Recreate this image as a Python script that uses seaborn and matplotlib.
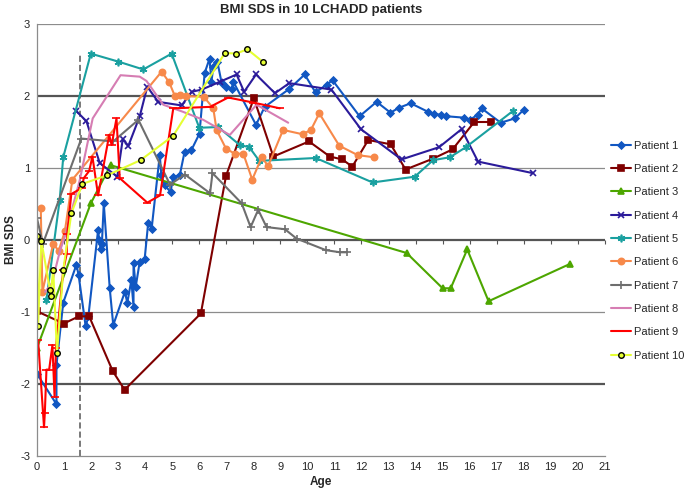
import numpy as np
import pandas as pd
import seaborn as sns
import matplotlib

matplotlib.use("Agg")
import matplotlib.pyplot as plt

# ages (years) and BMI SDS, one pair of lists per patient
p1_age = [0.0, 0.72, 0.72, 0.97, 1.46, 1.54, 1.8, 1.9, 2.26, 2.3, 2.35, 2.4, 2.47,
          2.69, 2.82, 3.25, 3.34, 3.49, 3.57, 3.57, 3.65, 3.8, 3.98, 4.11, 4.24,
          4.54, 4.6, 4.72, 4.94, 5.04, 5.28, 5.46, 5.71, 6.01, 6.2, 6.38, 6.45,
          6.52, 6.67, 6.83, 7.0, 7.2, 7.26, 8.1, 8.42, 9.33, 9.9, 10.3, 10.71,
          10.93, 11.93, 12.56, 13.07, 13.4, 13.82, 14.47, 14.68, 14.95, 15.14,
          15.8, 16.0, 16.3, 16.44, 17.15, 17.67, 18.0]
p1_sds = [-1.86, -2.28, -1.74, -0.87, -0.34, -0.49, -1.2, -1.06, 0.14, 0.0, -0.12,
          -0.05, 0.51, -0.67, -1.18, -0.72, -0.87, -0.56, -0.93, -0.32, -0.65,
          -0.3, -0.27, 0.23, 0.16, 1.18, 0.9, 0.76, 0.67, 0.88, 0.9, 1.23, 1.25,
          1.48, 2.32, 2.52, 2.2, 2.4, 2.48, 2.18, 2.13, 2.1, 2.2, 1.6, 1.85, 2.1,
          2.3, 2.05, 2.16, 2.22, 1.72, 1.92, 1.77, 1.84, 1.9, 1.78, 1.75, 1.74,
          1.72, 1.7, 1.67, 1.74, 1.83, 1.63, 1.69, 1.81]

p2_age = [0.0, 0.99, 1.55, 1.93, 2.8, 3.24, 6.06, 6.99, 8.02, 8.74, 10.06, 10.83,
          11.29, 11.66, 12.25, 13.08, 13.63, 14.64, 15.37, 16.17, 16.78]
p2_sds = [-0.99, -1.16, -1.06, -1.06, -1.82, -2.08, -1.02, 0.89, 1.97, 1.16, 1.37,
          1.16, 1.12, 1.02, 1.39, 1.33, 0.98, 1.13, 1.26, 1.64, 1.64]

p3_age = [0.0, 1.99, 2.72, 13.67, 15.0, 15.3, 15.91, 16.7, 19.72]
p3_sds = [-1.5, 0.51, 1.04, -0.18, -0.67, -0.67, -0.13, -0.85, -0.33]

p4_age = [1.46, 1.83, 2.32, 2.97, 3.17, 3.38, 3.8, 4.08, 4.48, 5.35, 5.72, 6.09,
          6.77, 7.38, 7.66, 8.1, 8.8, 9.33, 10.89, 11.98, 13.48, 14.87, 15.7,
          16.31, 18.33]
p4_sds = [1.79, 1.65, 1.07, 0.88, 1.4, 1.31, 1.72, 2.13, 1.92, 1.87, 2.06, 2.09,
          2.2, 2.3, 2.06, 2.3, 2.04, 2.18, 2.09, 1.54, 1.12, 1.29, 1.54, 1.09, 0.93]

p5_age = [0.35, 0.84, 0.97, 1.99, 3.0, 3.93, 4.98, 6.0, 6.7, 7.5, 7.85, 8.22,
          10.31, 12.41, 13.97, 14.65, 15.27, 15.86, 17.59]
p5_sds = [-0.83, 0.56, 1.15, 2.59, 2.48, 2.37, 2.59, 1.56, 1.57, 1.32, 1.29, 1.1,
          1.14, 0.8, 0.88, 1.11, 1.15, 1.29, 1.79]

p6_age = [0.14, 0.2, 0.6, 0.8, 1.03, 1.31, 4.61, 4.89, 5.1, 5.3, 5.5, 6.17, 6.52,
          6.64, 6.99, 7.31, 7.63, 7.96, 8.31, 8.55, 9.1, 9.82, 10.13, 10.44,
          11.18, 11.86, 12.46]
p6_sds = [0.44, -0.72, -0.05, -0.15, 0.12, 0.84, 2.34, 2.19, 2.0, 2.01, 2.0, 1.99,
          1.83, 1.53, 1.27, 1.2, 1.2, 0.84, 1.15, 1.03, 1.53, 1.47, 1.53, 1.76,
          1.31, 1.18, 1.15]

p7_age = [0.0, 0.22, 1.64, 2.82, 3.75, 4.92, 5.47, 6.4, 6.49, 7.57, 7.9, 8.18,
          8.49, 9.17, 9.6, 10.68, 11.2, 11.45]
p7_sds = [0.3, -0.05, 1.41, 1.37, 1.67, 0.77, 0.91, 0.65, 0.93, 0.51, 0.18, 0.42,
          0.18, 0.15, 0.02, -0.14, -0.17, -0.17]

p8_age = [0.3, 0.55, 0.85, 1.03, 1.58, 2.06, 3.09, 3.8, 4.05, 4.67, 5.41, 6.15,
          7.13, 8.12, 9.29]
p8_sds = [-0.72, -0.6, -0.15, 0.05, 0.83, 1.69, 2.29, 2.27, 2.21, 1.88, 1.78,
          1.67, 1.46, 1.88, 1.63]

p9_age = [0.04, 0.26, 0.29, 0.35, 0.45, 0.57, 0.65, 0.7, 0.97, 1.1, 1.12, 1.27,
          1.65, 1.73, 1.93, 2.05, 2.26, 2.67, 2.76, 2.94, 3.06, 4.08, 4.55,
          5.04, 6.4, 7.07, 8.0, 8.98]
p9_sds = [-1.39, -2.6, -2.4, -1.8, -1.8, -1.46, -2.18, -1.5, -0.42, -0.19, 0.09,
          0.64, 0.72, 0.86, 0.96, 1.16, 0.62, 1.46, 1.32, 1.69, 0.86, 0.52, 0.62,
          1.83, 1.85, 1.98, 1.91, 1.83]

p10_age = [0.0, 0.04, 0.16, 0.48, 0.5, 0.6, 0.74, 0.97, 1.27, 1.68, 2.6, 3.83,
           5.04, 6.95, 7.36, 7.78, 8.34]
p10_sds = [0.06, -1.2, -0.01, -0.69, -0.78, -0.41, -1.57, -0.42, 0.37, 0.78, 0.9,
           1.11, 1.45, 2.6, 2.59, 2.65, 2.48]

patients = [f"Patient {i}" for i in range(1, 11)]
ages = [p1_age, p2_age, p3_age, p4_age, p5_age, p6_age, p7_age, p8_age, p9_age, p10_age]
sds = [p1_sds, p2_sds, p3_sds, p4_sds, p5_sds, p6_sds, p7_sds, p8_sds, p9_sds, p10_sds]

colors = ["#1157C2", "#7F0000", "#4DA600", "#2B1B9A", "#1AA0A0",
          "#F7894A", "#6E6E6E", "#D67DB3", "#FF0000", "#E6FF33"]
markers = ["D", "s", "^", "x", (6, 2, 0), "o", "+", "", "_", "o"]
msizes = [3.5, 4.5, 4.5, 4.5, 5.5, 4.5, 5.5, 0, 5.5, 4]
edge_colors = colors[:9] + ["black"]

dashed_age = 1.6  # vertical reference line

sns.set_style("white")
plt.rcParams["font.family"] = ["Liberation Sans", "DejaVu Sans"]
plt.rcParams["axes.unicode_minus"] = False

fig = plt.figure(figsize=(6.85, 4.88), dpi=100)
ax = fig.add_axes([0.054, 0.0656, 0.829, 0.885])

# gridlines: thin at odd values, heavy at -2, 0, 2
for yv in [3, 1, -1]:
    ax.axhline(yv, color="#8c8c8c", lw=0.9, zorder=0)
for yv in [2, 0, -2]:
    ax.axhline(yv, color="#555555", lw=1.6, zorder=0)
ax.axvline(dashed_age, ymin=0, ymax=(2.57 + 3) / 6, color="#555555", lw=1.1,
           ls=(0, (4, 2)), zorder=1)

for i, name in enumerate(patients):
    df = pd.DataFrame({"Age": ages[i], "BMI SDS": sds[i]})
    sns.lineplot(
        data=df, x="Age", y="BMI SDS", sort=False, estimator=None, ax=ax,
        color=colors[i], marker=markers[i], markersize=msizes[i],
        markeredgecolor=edge_colors[i], markeredgewidth=1.0 if i == 9 else 1.2,
        linewidth=1.5, label=name,
    )

ax.set_xlim(0, 21)
ax.set_ylim(-3, 3)
ax.set_xticks(np.arange(0, 22))
ax.set_yticks(np.arange(-3, 4))
for side in ["top", "right"]:
    ax.spines[side].set_visible(False)
for side in ["left", "bottom"]:
    ax.spines[side].set_color("#8c8c8c")
    ax.spines[side].set_linewidth(0.9)
ax.tick_params(axis="y", labelsize=8, length=3, color="#8c8c8c", pad=2)
ax.tick_params(axis="x", labelsize=8, length=0, pad=4)

# small tick marks sitting on the zero line, as in the original
zero_axis = ax.secondary_xaxis(0.5)
zero_axis.set_xticks(np.arange(0, 22))
zero_axis.set_xticklabels([])
zero_axis.spines["bottom"].set_visible(False)
zero_axis.spines["top"].set_visible(False)
zero_axis.tick_params(axis="x", direction="out", length=3, color="#555555",
                      top=False, bottom=True)

ax.set_title("BMI SDS in 10 LCHADD patients", fontsize=9.5, fontweight="bold", pad=8)
ax.set_xlabel("Age", fontsize=8.5, fontweight="bold", labelpad=3)
ax.set_ylabel("BMI SDS", fontsize=8.5, fontweight="bold", labelpad=2)

ax.legend(loc="upper left", bbox_to_anchor=(0.892, 0.712), bbox_transform=fig.transFigure,
          frameon=False, fontsize=8, handlelength=1.8, handletextpad=0.3,
          labelspacing=1.2, borderpad=0, borderaxespad=0)

fig.savefig("out.png", dpi=100)
